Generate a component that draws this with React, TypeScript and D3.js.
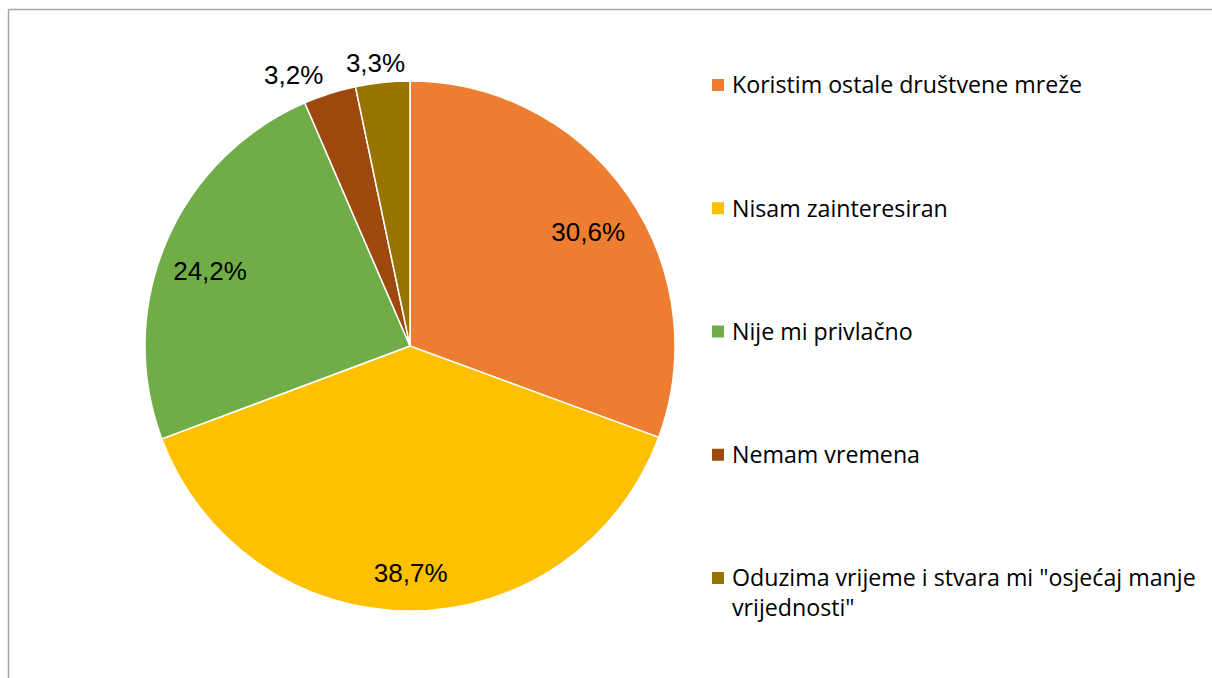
import React from "react";
import * as d3 from "d3";

const categories = [
  "Koristim ostale društvene mreže",
  "Nisam zainteresiran",
  "Nije mi privlačno",
  "Nemam vremena",
  'Oduzima vrijeme i stvara mi "osjećaj manje vrijednosti"',
];
const values = [30.6, 38.7, 24.2, 3.2, 3.3];
const colors = ["#ED7D31", "#FFC000", "#70AD47", "#9E480E", "#997300"];
const legendLines = [
  ["Koristim ostale društvene mreže"],
  ["Nisam zainteresiran"],
  ["Nije mi privlačno"],
  ["Nemam vremena"],
  ['Oduzima vrijeme i stvara mi "osjećaj manje', 'vrijednosti"'],
];

export default function App() {
  const W = 1212, H = 678;
  const cx = 410, cy = 346, r = 265;
  const pie = d3.pie<number>().sort(null).value((d) => d)(values);
  const arc = d3.arc<d3.PieArcDatum<number>>().innerRadius(0).outerRadius(r);
  const inner = d3.arc<d3.PieArcDatum<number>>().innerRadius(r * 0.82).outerRadius(r * 0.82);
  const outer = d3.arc<d3.PieArcDatum<number>>().innerRadius(r + 20).outerRadius(r + 20);
  const fmt = (v: number) => v.toFixed(1).replace(".", ",") + "%";
  const legendY = d3.scalePoint<number>().domain(d3.range(categories.length)).range([85, 578]);

  return (
    <svg width={W} height={H} style={{ position: "absolute", left: 0, top: 0 }}>
      <rect x={0} y={0} width={W} height={H} fill="#fff" />
      <line x1={8.5} y1={9.5} x2={W} y2={9.5} stroke="#a6a6a6" strokeWidth={1.5} />
      <line x1={8.5} y1={9.5} x2={8.5} y2={H} stroke="#a6a6a6" strokeWidth={1.5} />
      <g transform={`translate(${cx},${cy})`}>
        {pie.map((p, i) => (
          <path key={i} d={arc(p) || ""} fill={colors[i]} stroke="#fff" strokeWidth={1.5} />
        ))}
        {pie.map((p, i) => {
          const small = values[i] < 5;
          const [x, y] = small ? outer.centroid(p) : inner.centroid(p);
          const dx = small ? (i === 3 ? -30 : -5) : 0;
          const dy = small ? 0 : 10;
          return (
            <text
              key={i}
              x={x + dx}
              y={y + dy}
              dy="0.35em"
              textAnchor="middle"
              fontFamily="'Liberation Sans', Arial, sans-serif"
              fontSize={26}
              fill="#000"
            >
              {fmt(values[i])}
            </text>
          );
        })}
      </g>
      <g>
        {categories.map((c, i) => {
          const y = legendY(i)!;
          return (
            <g key={c}>
              <rect x={712} y={y - 6} width={12} height={12} fill={colors[i]} />
              {legendLines[i].map((line, j) => (
                <text
                  key={j}
                  x={732}
                  y={y + j * 30}
                  dy="0.36em"
                  fontFamily="'Open Sans', 'Noto Sans', sans-serif"
                  fontSize={23.2}
                  fill="#000"
                >
                  {line}
                </text>
              ))}
            </g>
          );
        })}
      </g>
    </svg>
  );
}
